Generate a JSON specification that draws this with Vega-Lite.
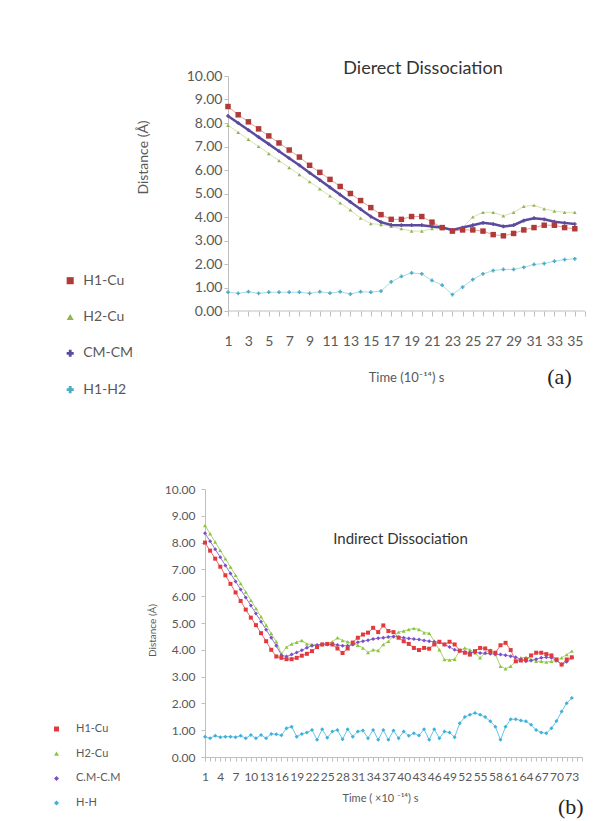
{
  "$schema": "https://vega.github.io/schema/vega-lite/v6.json",
  "padding": {"left": 51, "top": 60, "right": 5, "bottom": 0},
  "spacing": 86,
  "resolve": {"scale": {"color": "independent", "shape": "independent", "stroke": "independent", "x": "independent", "y": "independent"}, "legend": {"color": "independent"}, "axis": {"x": "independent", "y": "independent"}},
  "config": {
    "font": "Lato",
    "view": {"stroke": null},
    "axis": {"grid": false, "domainColor": "#bfbfbf", "tickColor": "#bfbfbf", "labelColor": "#595959", "titleColor": "#595959", "titleFontWeight": "normal", "labelFont": "Lato", "titleFont": "Lato"},
    "legend": {"labelColor": "#595959", "labelFont": "Lato"},
    "title": {"color": "#333333", "fontWeight": "normal", "font": "Lato"}
  },
  "datasets": {
    "a": [
      {"t":1,"s":"H1-Cu","d":8.7},{"t":1,"s":"H2-Cu","d":7.9},{"t":1,"s":"CM-CM","d":8.3},{"t":1,"s":"H1-H2","d":0.8},
      {"t":2,"s":"H1-Cu","d":8.35},{"t":2,"s":"H2-Cu","d":7.6},{"t":2,"s":"CM-CM","d":8.0},{"t":2,"s":"H1-H2","d":0.75},
      {"t":3,"s":"H1-Cu","d":8.05},{"t":3,"s":"H2-Cu","d":7.3},{"t":3,"s":"CM-CM","d":7.7},{"t":3,"s":"H1-H2","d":0.82},
      {"t":4,"s":"H1-Cu","d":7.75},{"t":4,"s":"H2-Cu","d":7.0},{"t":4,"s":"CM-CM","d":7.4},{"t":4,"s":"H1-H2","d":0.75},
      {"t":5,"s":"H1-Cu","d":7.45},{"t":5,"s":"H2-Cu","d":6.7},{"t":5,"s":"CM-CM","d":7.1},{"t":5,"s":"H1-H2","d":0.8},
      {"t":6,"s":"H1-Cu","d":7.15},{"t":6,"s":"H2-Cu","d":6.4},{"t":6,"s":"CM-CM","d":6.8},{"t":6,"s":"H1-H2","d":0.8},
      {"t":7,"s":"H1-Cu","d":6.85},{"t":7,"s":"H2-Cu","d":6.1},{"t":7,"s":"CM-CM","d":6.5},{"t":7,"s":"H1-H2","d":0.8},
      {"t":8,"s":"H1-Cu","d":6.55},{"t":8,"s":"H2-Cu","d":5.8},{"t":8,"s":"CM-CM","d":6.2},{"t":8,"s":"H1-H2","d":0.8},
      {"t":9,"s":"H1-Cu","d":6.2},{"t":9,"s":"H2-Cu","d":5.5},{"t":9,"s":"CM-CM","d":5.88},{"t":9,"s":"H1-H2","d":0.75},
      {"t":10,"s":"H1-Cu","d":5.9},{"t":10,"s":"H2-Cu","d":5.2},{"t":10,"s":"CM-CM","d":5.57},{"t":10,"s":"H1-H2","d":0.82},
      {"t":11,"s":"H1-Cu","d":5.6},{"t":11,"s":"H2-Cu","d":4.9},{"t":11,"s":"CM-CM","d":5.26},{"t":11,"s":"H1-H2","d":0.76},
      {"t":12,"s":"H1-Cu","d":5.3},{"t":12,"s":"H2-Cu","d":4.6},{"t":12,"s":"CM-CM","d":4.95},{"t":12,"s":"H1-H2","d":0.82},
      {"t":13,"s":"H1-Cu","d":5.0},{"t":13,"s":"H2-Cu","d":4.3},{"t":13,"s":"CM-CM","d":4.64},{"t":13,"s":"H1-H2","d":0.72},
      {"t":14,"s":"H1-Cu","d":4.7},{"t":14,"s":"H2-Cu","d":3.95},{"t":14,"s":"CM-CM","d":4.33},{"t":14,"s":"H1-H2","d":0.82},
      {"t":15,"s":"H1-Cu","d":4.4},{"t":15,"s":"H2-Cu","d":3.72},{"t":15,"s":"CM-CM","d":4.02},{"t":15,"s":"H1-H2","d":0.8},
      {"t":16,"s":"H1-Cu","d":4.1},{"t":16,"s":"H2-Cu","d":3.68},{"t":16,"s":"CM-CM","d":3.78},{"t":16,"s":"H1-H2","d":0.85},
      {"t":17,"s":"H1-Cu","d":3.9},{"t":17,"s":"H2-Cu","d":3.6},{"t":17,"s":"CM-CM","d":3.66},{"t":17,"s":"H1-H2","d":1.24},
      {"t":18,"s":"H1-Cu","d":3.9},{"t":18,"s":"H2-Cu","d":3.5},{"t":18,"s":"CM-CM","d":3.65},{"t":18,"s":"H1-H2","d":1.47},
      {"t":19,"s":"H1-Cu","d":4.02},{"t":19,"s":"H2-Cu","d":3.4},{"t":19,"s":"CM-CM","d":3.65},{"t":19,"s":"H1-H2","d":1.62},
      {"t":20,"s":"H1-Cu","d":4.02},{"t":20,"s":"H2-Cu","d":3.4},{"t":20,"s":"CM-CM","d":3.65},{"t":20,"s":"H1-H2","d":1.58},
      {"t":21,"s":"H1-Cu","d":3.78},{"t":21,"s":"H2-Cu","d":3.5},{"t":21,"s":"CM-CM","d":3.6},{"t":21,"s":"H1-H2","d":1.3},
      {"t":22,"s":"H1-Cu","d":3.55},{"t":22,"s":"H2-Cu","d":3.5},{"t":22,"s":"CM-CM","d":3.55},{"t":22,"s":"H1-H2","d":1.1},
      {"t":23,"s":"H1-Cu","d":3.4},{"t":23,"s":"H2-Cu","d":3.45},{"t":23,"s":"CM-CM","d":3.45},{"t":23,"s":"H1-H2","d":0.7},
      {"t":24,"s":"H1-Cu","d":3.45},{"t":24,"s":"H2-Cu","d":3.55},{"t":24,"s":"CM-CM","d":3.55},{"t":24,"s":"H1-H2","d":1.02},
      {"t":25,"s":"H1-Cu","d":3.45},{"t":25,"s":"H2-Cu","d":4.0},{"t":25,"s":"CM-CM","d":3.65},{"t":25,"s":"H1-H2","d":1.34},
      {"t":26,"s":"H1-Cu","d":3.4},{"t":26,"s":"H2-Cu","d":4.2},{"t":26,"s":"CM-CM","d":3.75},{"t":26,"s":"H1-H2","d":1.58},
      {"t":27,"s":"H1-Cu","d":3.25},{"t":27,"s":"H2-Cu","d":4.2},{"t":27,"s":"CM-CM","d":3.7},{"t":27,"s":"H1-H2","d":1.72},
      {"t":28,"s":"H1-Cu","d":3.2},{"t":28,"s":"H2-Cu","d":4.05},{"t":28,"s":"CM-CM","d":3.6},{"t":28,"s":"H1-H2","d":1.77},
      {"t":29,"s":"H1-Cu","d":3.3},{"t":29,"s":"H2-Cu","d":4.2},{"t":29,"s":"CM-CM","d":3.65},{"t":29,"s":"H1-H2","d":1.77},
      {"t":30,"s":"H1-Cu","d":3.45},{"t":30,"s":"H2-Cu","d":4.45},{"t":30,"s":"CM-CM","d":3.85},{"t":30,"s":"H1-H2","d":1.86},
      {"t":31,"s":"H1-Cu","d":3.55},{"t":31,"s":"H2-Cu","d":4.5},{"t":31,"s":"CM-CM","d":3.95},{"t":31,"s":"H1-H2","d":1.98},
      {"t":32,"s":"H1-Cu","d":3.65},{"t":32,"s":"H2-Cu","d":4.35},{"t":32,"s":"CM-CM","d":3.9},{"t":32,"s":"H1-H2","d":2.02},
      {"t":33,"s":"H1-Cu","d":3.65},{"t":33,"s":"H2-Cu","d":4.25},{"t":33,"s":"CM-CM","d":3.8},{"t":33,"s":"H1-H2","d":2.12},
      {"t":34,"s":"H1-Cu","d":3.55},{"t":34,"s":"H2-Cu","d":4.2},{"t":34,"s":"CM-CM","d":3.75},{"t":34,"s":"H1-H2","d":2.19},
      {"t":35,"s":"H1-Cu","d":3.5},{"t":35,"s":"H2-Cu","d":4.2},{"t":35,"s":"CM-CM","d":3.7},{"t":35,"s":"H1-H2","d":2.22}
    ],
    "b": [
      {"t":1,"s":"H1-Cu","d":8.0},{"t":1,"s":"H2-Cu","d":8.64},{"t":1,"s":"C.M-C.M","d":8.35},{"t":1,"s":"H-H","d":0.76},
      {"t":2,"s":"H1-Cu","d":7.7},{"t":2,"s":"H2-Cu","d":8.33},{"t":2,"s":"C.M-C.M","d":8.05},{"t":2,"s":"H-H","d":0.70},
      {"t":3,"s":"H1-Cu","d":7.4},{"t":3,"s":"H2-Cu","d":8.02},{"t":3,"s":"C.M-C.M","d":7.75},{"t":3,"s":"H-H","d":0.79},
      {"t":4,"s":"H1-Cu","d":7.1},{"t":4,"s":"H2-Cu","d":7.71},{"t":4,"s":"C.M-C.M","d":7.45},{"t":4,"s":"H-H","d":0.74},
      {"t":5,"s":"H1-Cu","d":6.78},{"t":5,"s":"H2-Cu","d":7.4},{"t":5,"s":"C.M-C.M","d":7.15},{"t":5,"s":"H-H","d":0.76},
      {"t":6,"s":"H1-Cu","d":6.46},{"t":6,"s":"H2-Cu","d":7.09},{"t":6,"s":"C.M-C.M","d":6.85},{"t":6,"s":"H-H","d":0.76},
      {"t":7,"s":"H1-Cu","d":6.14},{"t":7,"s":"H2-Cu","d":6.78},{"t":7,"s":"C.M-C.M","d":6.55},{"t":7,"s":"H-H","d":0.74},
      {"t":8,"s":"H1-Cu","d":5.82},{"t":8,"s":"H2-Cu","d":6.47},{"t":8,"s":"C.M-C.M","d":6.25},{"t":8,"s":"H-H","d":0.79},
      {"t":9,"s":"H1-Cu","d":5.5},{"t":9,"s":"H2-Cu","d":6.16},{"t":9,"s":"C.M-C.M","d":5.95},{"t":9,"s":"H-H","d":0.70},
      {"t":10,"s":"H1-Cu","d":5.2},{"t":10,"s":"H2-Cu","d":5.85},{"t":10,"s":"C.M-C.M","d":5.65},{"t":10,"s":"H-H","d":0.82},
      {"t":11,"s":"H1-Cu","d":4.92},{"t":11,"s":"H2-Cu","d":5.54},{"t":11,"s":"C.M-C.M","d":5.35},{"t":11,"s":"H-H","d":0.70},
      {"t":12,"s":"H1-Cu","d":4.62},{"t":12,"s":"H2-Cu","d":5.23},{"t":12,"s":"C.M-C.M","d":5.05},{"t":12,"s":"H-H","d":0.82},
      {"t":13,"s":"H1-Cu","d":4.32},{"t":13,"s":"H2-Cu","d":4.92},{"t":13,"s":"C.M-C.M","d":4.75},{"t":13,"s":"H-H","d":0.70},
      {"t":14,"s":"H1-Cu","d":4.0},{"t":14,"s":"H2-Cu","d":4.61},{"t":14,"s":"C.M-C.M","d":4.45},{"t":14,"s":"H-H","d":0.86},
      {"t":15,"s":"H1-Cu","d":3.75},{"t":15,"s":"H2-Cu","d":4.3},{"t":15,"s":"C.M-C.M","d":4.15},{"t":15,"s":"H-H","d":0.85},
      {"t":16,"s":"H1-Cu","d":3.7},{"t":16,"s":"H2-Cu","d":3.85},{"t":16,"s":"C.M-C.M","d":3.8},{"t":16,"s":"H-H","d":0.81},
      {"t":17,"s":"H1-Cu","d":3.65},{"t":17,"s":"H2-Cu","d":4.1},{"t":17,"s":"C.M-C.M","d":3.75},{"t":17,"s":"H-H","d":1.07},
      {"t":18,"s":"H1-Cu","d":3.65},{"t":18,"s":"H2-Cu","d":4.22},{"t":18,"s":"C.M-C.M","d":3.82},{"t":18,"s":"H-H","d":1.13},
      {"t":19,"s":"H1-Cu","d":3.7},{"t":19,"s":"H2-Cu","d":4.28},{"t":19,"s":"C.M-C.M","d":3.9},{"t":19,"s":"H-H","d":0.76},
      {"t":20,"s":"H1-Cu","d":3.78},{"t":20,"s":"H2-Cu","d":4.35},{"t":20,"s":"C.M-C.M","d":3.98},{"t":20,"s":"H-H","d":0.86},
      {"t":21,"s":"H1-Cu","d":3.85},{"t":21,"s":"H2-Cu","d":4.22},{"t":21,"s":"C.M-C.M","d":4.08},{"t":21,"s":"H-H","d":0.91},
      {"t":22,"s":"H1-Cu","d":3.95},{"t":22,"s":"H2-Cu","d":4.2},{"t":22,"s":"C.M-C.M","d":4.15},{"t":22,"s":"H-H","d":1.01},
      {"t":23,"s":"H1-Cu","d":4.1},{"t":23,"s":"H2-Cu","d":4.18},{"t":23,"s":"C.M-C.M","d":4.18},{"t":23,"s":"H-H","d":0.64},
      {"t":24,"s":"H1-Cu","d":4.2},{"t":24,"s":"H2-Cu","d":4.2},{"t":24,"s":"C.M-C.M","d":4.2},{"t":24,"s":"H-H","d":1.04},
      {"t":25,"s":"H1-Cu","d":4.22},{"t":25,"s":"H2-Cu","d":4.22},{"t":25,"s":"C.M-C.M","d":4.2},{"t":25,"s":"H-H","d":0.72},
      {"t":26,"s":"H1-Cu","d":4.2},{"t":26,"s":"H2-Cu","d":4.3},{"t":26,"s":"C.M-C.M","d":4.2},{"t":26,"s":"H-H","d":0.95},
      {"t":27,"s":"H1-Cu","d":4.05},{"t":27,"s":"H2-Cu","d":4.45},{"t":27,"s":"C.M-C.M","d":4.18},{"t":27,"s":"H-H","d":1.01},
      {"t":28,"s":"H1-Cu","d":3.88},{"t":28,"s":"H2-Cu","d":4.35},{"t":28,"s":"C.M-C.M","d":4.15},{"t":28,"s":"H-H","d":0.66},
      {"t":29,"s":"H1-Cu","d":4.05},{"t":29,"s":"H2-Cu","d":4.3},{"t":29,"s":"C.M-C.M","d":4.15},{"t":29,"s":"H-H","d":1.04},
      {"t":30,"s":"H1-Cu","d":4.27},{"t":30,"s":"H2-Cu","d":4.22},{"t":30,"s":"C.M-C.M","d":4.2},{"t":30,"s":"H-H","d":0.76},
      {"t":31,"s":"H1-Cu","d":4.45},{"t":31,"s":"H2-Cu","d":4.17},{"t":31,"s":"C.M-C.M","d":4.28},{"t":31,"s":"H-H","d":0.95},
      {"t":32,"s":"H1-Cu","d":4.57},{"t":32,"s":"H2-Cu","d":4.07},{"t":32,"s":"C.M-C.M","d":4.32},{"t":32,"s":"H-H","d":0.99},
      {"t":33,"s":"H1-Cu","d":4.64},{"t":33,"s":"H2-Cu","d":3.9},{"t":33,"s":"C.M-C.M","d":4.36},{"t":33,"s":"H-H","d":0.70},
      {"t":34,"s":"H1-Cu","d":4.82},{"t":34,"s":"H2-Cu","d":4.0},{"t":34,"s":"C.M-C.M","d":4.4},{"t":34,"s":"H-H","d":1.01},
      {"t":35,"s":"H1-Cu","d":4.66},{"t":35,"s":"H2-Cu","d":3.97},{"t":35,"s":"C.M-C.M","d":4.43},{"t":35,"s":"H-H","d":0.64},
      {"t":36,"s":"H1-Cu","d":4.91},{"t":36,"s":"H2-Cu","d":4.2},{"t":36,"s":"C.M-C.M","d":4.45},{"t":36,"s":"H-H","d":1.01},
      {"t":37,"s":"H1-Cu","d":4.7},{"t":37,"s":"H2-Cu","d":4.32},{"t":37,"s":"C.M-C.M","d":4.48},{"t":37,"s":"H-H","d":0.64},
      {"t":38,"s":"H1-Cu","d":4.66},{"t":38,"s":"H2-Cu","d":4.5},{"t":38,"s":"C.M-C.M","d":4.5},{"t":38,"s":"H-H","d":0.99},
      {"t":39,"s":"H1-Cu","d":4.45},{"t":39,"s":"H2-Cu","d":4.66},{"t":39,"s":"C.M-C.M","d":4.48},{"t":39,"s":"H-H","d":0.70},
      {"t":40,"s":"H1-Cu","d":4.32},{"t":40,"s":"H2-Cu","d":4.7},{"t":40,"s":"C.M-C.M","d":4.45},{"t":40,"s":"H-H","d":0.95},
      {"t":41,"s":"H1-Cu","d":4.22},{"t":41,"s":"H2-Cu","d":4.76},{"t":41,"s":"C.M-C.M","d":4.42},{"t":41,"s":"H-H","d":0.79},
      {"t":42,"s":"H1-Cu","d":4.07},{"t":42,"s":"H2-Cu","d":4.8},{"t":42,"s":"C.M-C.M","d":4.4},{"t":42,"s":"H-H","d":0.89},
      {"t":43,"s":"H1-Cu","d":3.99},{"t":43,"s":"H2-Cu","d":4.76},{"t":43,"s":"C.M-C.M","d":4.38},{"t":43,"s":"H-H","d":0.80},
      {"t":44,"s":"H1-Cu","d":4.07},{"t":44,"s":"H2-Cu","d":4.64},{"t":44,"s":"C.M-C.M","d":4.35},{"t":44,"s":"H-H","d":1.04},
      {"t":45,"s":"H1-Cu","d":4.04},{"t":45,"s":"H2-Cu","d":4.62},{"t":45,"s":"C.M-C.M","d":4.32},{"t":45,"s":"H-H","d":0.64},
      {"t":46,"s":"H1-Cu","d":4.2},{"t":46,"s":"H2-Cu","d":4.32},{"t":46,"s":"C.M-C.M","d":4.3},{"t":46,"s":"H-H","d":1.04},
      {"t":47,"s":"H1-Cu","d":4.3},{"t":47,"s":"H2-Cu","d":4.0},{"t":47,"s":"C.M-C.M","d":4.28},{"t":47,"s":"H-H","d":0.70},
      {"t":48,"s":"H1-Cu","d":4.2},{"t":48,"s":"H2-Cu","d":3.64},{"t":48,"s":"C.M-C.M","d":4.2},{"t":48,"s":"H-H","d":0.95},
      {"t":49,"s":"H1-Cu","d":4.3},{"t":49,"s":"H2-Cu","d":3.62},{"t":49,"s":"C.M-C.M","d":4.1},{"t":49,"s":"H-H","d":0.91},
      {"t":50,"s":"H1-Cu","d":4.2},{"t":50,"s":"H2-Cu","d":3.65},{"t":50,"s":"C.M-C.M","d":4.0},{"t":50,"s":"H-H","d":0.74},
      {"t":51,"s":"H1-Cu","d":3.97},{"t":51,"s":"H2-Cu","d":3.97},{"t":51,"s":"C.M-C.M","d":3.95},{"t":51,"s":"H-H","d":1.26},
      {"t":52,"s":"H1-Cu","d":3.89},{"t":52,"s":"H2-Cu","d":4.07},{"t":52,"s":"C.M-C.M","d":3.92},{"t":52,"s":"H-H","d":1.49},
      {"t":53,"s":"H1-Cu","d":3.82},{"t":53,"s":"H2-Cu","d":4.0},{"t":53,"s":"C.M-C.M","d":3.9},{"t":53,"s":"H-H","d":1.58},
      {"t":54,"s":"H1-Cu","d":3.95},{"t":54,"s":"H2-Cu","d":3.89},{"t":54,"s":"C.M-C.M","d":3.9},{"t":54,"s":"H-H","d":1.64},
      {"t":55,"s":"H1-Cu","d":4.07},{"t":55,"s":"H2-Cu","d":3.7},{"t":55,"s":"C.M-C.M","d":3.88},{"t":55,"s":"H-H","d":1.58},
      {"t":56,"s":"H1-Cu","d":4.05},{"t":56,"s":"H2-Cu","d":3.9},{"t":56,"s":"C.M-C.M","d":3.87},{"t":56,"s":"H-H","d":1.49},
      {"t":57,"s":"H1-Cu","d":3.95},{"t":57,"s":"H2-Cu","d":3.99},{"t":57,"s":"C.M-C.M","d":3.85},{"t":57,"s":"H-H","d":1.33},
      {"t":58,"s":"H1-Cu","d":3.89},{"t":58,"s":"H2-Cu","d":3.82},{"t":58,"s":"C.M-C.M","d":3.84},{"t":58,"s":"H-H","d":1.13},
      {"t":59,"s":"H1-Cu","d":4.17},{"t":59,"s":"H2-Cu","d":3.39},{"t":59,"s":"C.M-C.M","d":3.82},{"t":59,"s":"H-H","d":0.64},
      {"t":60,"s":"H1-Cu","d":4.26},{"t":60,"s":"H2-Cu","d":3.29},{"t":60,"s":"C.M-C.M","d":3.8},{"t":60,"s":"H-H","d":1.13},
      {"t":61,"s":"H1-Cu","d":3.99},{"t":61,"s":"H2-Cu","d":3.39},{"t":61,"s":"C.M-C.M","d":3.76},{"t":61,"s":"H-H","d":1.41},
      {"t":62,"s":"H1-Cu","d":3.57},{"t":62,"s":"H2-Cu","d":3.57},{"t":62,"s":"C.M-C.M","d":3.72},{"t":62,"s":"H-H","d":1.41},
      {"t":63,"s":"H1-Cu","d":3.6},{"t":63,"s":"H2-Cu","d":3.7},{"t":63,"s":"C.M-C.M","d":3.65},{"t":63,"s":"H-H","d":1.36},
      {"t":64,"s":"H1-Cu","d":3.64},{"t":64,"s":"H2-Cu","d":3.72},{"t":64,"s":"C.M-C.M","d":3.57},{"t":64,"s":"H-H","d":1.33},
      {"t":65,"s":"H1-Cu","d":3.79},{"t":65,"s":"H2-Cu","d":3.64},{"t":65,"s":"C.M-C.M","d":3.6},{"t":65,"s":"H-H","d":1.20},
      {"t":66,"s":"H1-Cu","d":3.89},{"t":66,"s":"H2-Cu","d":3.57},{"t":66,"s":"C.M-C.M","d":3.65},{"t":66,"s":"H-H","d":1.01},
      {"t":67,"s":"H1-Cu","d":3.89},{"t":67,"s":"H2-Cu","d":3.57},{"t":67,"s":"C.M-C.M","d":3.7},{"t":67,"s":"H-H","d":0.91},
      {"t":68,"s":"H1-Cu","d":3.84},{"t":68,"s":"H2-Cu","d":3.54},{"t":68,"s":"C.M-C.M","d":3.72},{"t":68,"s":"H-H","d":0.89},
      {"t":69,"s":"H1-Cu","d":3.79},{"t":69,"s":"H2-Cu","d":3.57},{"t":69,"s":"C.M-C.M","d":3.7},{"t":69,"s":"H-H","d":1.07},
      {"t":70,"s":"H1-Cu","d":3.64},{"t":70,"s":"H2-Cu","d":3.6},{"t":70,"s":"C.M-C.M","d":3.6},{"t":70,"s":"H-H","d":1.34},
      {"t":71,"s":"H1-Cu","d":3.45},{"t":71,"s":"H2-Cu","d":3.7},{"t":71,"s":"C.M-C.M","d":3.45},{"t":71,"s":"H-H","d":1.70},
      {"t":72,"s":"H1-Cu","d":3.64},{"t":72,"s":"H2-Cu","d":3.82},{"t":72,"s":"C.M-C.M","d":3.55},{"t":72,"s":"H-H","d":2.01},
      {"t":73,"s":"H1-Cu","d":3.72},{"t":73,"s":"H2-Cu","d":3.95},{"t":73,"s":"C.M-C.M","d":3.7},{"t":73,"s":"H-H","d":2.20}
    ]
  },
  "vconcat": [
    {
      "width": 380,
      "height": 235,
      "title": {"text": "Dierect Dissociation", "anchor": "middle", "frame": "group", "fontSize": 18, "dx": 28, "offset": -23, "baseline": "alphabetic"},
      "data": {"name": "a"},
      "encoding": {
        "x": {"field": "t", "type": "quantitative", "scale": {"domain": [-1.255, 36], "nice": false, "zero": false},
          "axis": {"title": "Time  (10⁻¹⁴) s", "domain": false, "values": [1,2,3,4,5,6,7,8,9,10,11,12,13,14,15,16,17,18,19,20,21,22,23,24,25,26,27,28,29,30,31,32,33,34,35,36],
            "labelExpr": "datum.value % 2 === 1 ? datum.label : ''", "labelOverlap": false, "labelFlush": false, "tickSize": 5, "labelPadding": 18, "labelFontSize": 14,
            "titleFontSize": 13, "titleX": 201, "titleY": 66, "titleBaseline": "middle", "titleAlign": "center"}},
        "y": {"field": "d", "type": "quantitative", "scale": {"domain": [0, 10], "nice": false},
          "axis": {"title": "Distance  (Å)", "offset": -23, "values": [0,1,2,3,4,5,6,7,8,9,10], "format": ".2f", "tickSize": 4, "labelPadding": 2, "labelFontSize": 14,
            "titleFontSize": 14, "titleX": -85, "titleY": 81, "titleAngle": -90, "titleAlign": "center", "titleBaseline": "middle"}}
      },
      "layer": [
        {
          "transform": [{"filter": "datum.t === 1 && datum.s === 'H1-Cu'"}],
          "mark": {"type": "rule", "color": "#bfbfbf", "strokeWidth": 1},
          "encoding": {"x": {"datum": 1}, "x2": {"datum": 36}, "y": {"datum": 0}}
        },
        {
          "transform": [{"filter": "datum.s !== 'CM-CM'"}],
          "mark": {"type": "line", "strokeWidth": 1},
          "encoding": {"stroke": {"field": "s", "type": "nominal", "scale": {"domain": ["H1-Cu", "H2-Cu", "H1-H2"], "range": ["#e6a3a1", "#d3e3b0", "#a9dbe8"]}, "legend": null}}
        },
        {
          "transform": [{"filter": "datum.s === 'CM-CM'"}],
          "mark": {"type": "line", "strokeWidth": 2.5, "color": "#5b4b9e"},
          "encoding": {}
        },
        {
          "transform": [{"filter": "datum.s !== 'H1-Cu'"}],
          "mark": {"type": "point", "filled": true, "size": 14, "opacity": 1},
          "encoding": {
            "color": {"field": "s", "type": "nominal",
              "scale": {"domain": ["H1-Cu", "H2-Cu", "CM-CM", "H1-H2"], "range": ["#b03a38", "#93b450", "#5b4b9e", "#4bacc6"]},
              "legend": {"title": null, "orient": "none", "legendX": -141.8, "legendY": 197.7, "direction": "vertical", "padding": 0,
                "symbolSize": 50, "rowPadding": 22.3, "labelFontSize": 14, "labelOffset": 6, "symbolOpacity": 1}},
            "shape": {"field": "s", "type": "nominal", "scale": {"domain": ["H1-Cu", "H2-Cu", "CM-CM", "H1-H2"], "range": ["square", "triangle-up", "cross", "cross"]}, "legend": null}
          }
        },
        {
          "transform": [{"filter": "datum.s === 'H1-Cu'"}],
          "mark": {"type": "point", "filled": true, "size": 30, "shape": "square", "opacity": 1},
          "encoding": {
            "color": {"field": "s", "type": "nominal",
              "scale": {"domain": ["H1-Cu", "H2-Cu", "CM-CM", "H1-H2"], "range": ["#b03a38", "#93b450", "#5b4b9e", "#4bacc6"]},
              "legend": {"title": null, "orient": "none", "legendX": -141.8, "legendY": 197.7, "direction": "vertical", "padding": 0,
                "symbolSize": 50, "rowPadding": 22.3, "labelFontSize": 14, "labelOffset": 6, "symbolOpacity": 1}}
          }
        },
        {
          "transform": [{"filter": "datum.t === 1 && datum.s === 'H1-Cu'"}],
          "mark": {"type": "text", "font": "Liberation Serif", "fontSize": 22, "color": "#222222", "align": "center", "baseline": "middle"},
          "encoding": {"x": {"datum": 33.5}, "y": {"datum": -2.81}, "text": {"value": "(a)"}}
        }
      ]
    },
    {
      "width": 377,
      "height": 268,
      "title": {"text": "Indirect Dissociation", "anchor": "middle", "frame": "group", "fontSize": 15, "dx": 7, "offset": -76, "baseline": "alphabetic"},
      "data": {"name": "b"},
      "encoding": {
        "x": {"field": "t", "type": "quantitative", "scale": {"domain": [1, 75], "nice": false, "zero": false},
          "axis": {"title": "Time ( ×10 ⁻¹⁴) s", "values": [1,2,3,4,5,6,7,8,9,10,11,12,13,14,15,16,17,18,19,20,21,22,23,24,25,26,27,28,29,30,31,32,33,34,35,36,37,38,39,40,41,42,43,44,45,46,47,48,49,50,51,52,53,54,55,56,57,58,59,60,61,62,63,64,65,66,67,68,69,70,71,72,73,74,75],
            "labelExpr": "(datum.value - 1) % 3 === 0 && datum.value <= 73 ? datum.label : ''", "labelOverlap": false, "labelFlush": false, "tickSize": 4, "labelPadding": 10, "labelFontSize": 12,
            "titleFontSize": 11, "titleX": 175, "titleY": 41, "titleBaseline": "middle", "titleAlign": "center"}},
        "y": {"field": "d", "type": "quantitative", "scale": {"domain": [0, 10], "nice": false},
          "axis": {"title": "Distance (Å)", "values": [0,1,2,3,4,5,6,7,8,9,10], "format": ".2f", "tickSize": 4, "labelPadding": 6, "labelFontSize": 12,
            "titleFontSize": 10, "titleX": -53, "titleY": 141, "titleAngle": -90, "titleAlign": "center", "titleBaseline": "middle"}}
      },
      "layer": [
        {
          "transform": [{"filter": "datum.s === 'H1-Cu'"}],
          "mark": {"type": "line", "strokeWidth": 1, "color": "#e8696a"},
          "encoding": {}
        },
        {
          "transform": [{"filter": "datum.s === 'H2-Cu'"}],
          "mark": {"type": "line", "strokeWidth": 1, "color": "#a9d46a"},
          "encoding": {}
        },
        {
          "transform": [{"filter": "datum.s === 'C.M-C.M'"}],
          "mark": {"type": "line", "strokeWidth": 1, "color": "#9477d6"},
          "encoding": {}
        },
        {
          "transform": [{"filter": "datum.s === 'H-H'"}],
          "mark": {"type": "line", "strokeWidth": 1, "color": "#6cc4e6"},
          "encoding": {}
        },
        {
          "transform": [{"filter": "datum.s !== 'H1-Cu'"}],
          "mark": {"type": "point", "filled": true, "size": 16, "opacity": 1},
          "encoding": {
            "color": {"field": "s", "type": "nominal",
              "scale": {"domain": ["H1-Cu", "H2-Cu", "C.M-C.M", "H-H"], "range": ["#e23a3c", "#8cc63e", "#7a4fc8", "#3db0dc"]},
              "legend": {"title": null, "orient": "none", "legendX": -154, "legendY": 234.5, "direction": "vertical", "padding": 0,
                "symbolSize": 25, "rowPadding": 12.7, "labelFontSize": 11, "labelOffset": 14, "symbolOpacity": 1}},
            "shape": {"field": "s", "type": "nominal", "scale": {"domain": ["H1-Cu", "H2-Cu", "C.M-C.M", "H-H"], "range": ["square", "triangle-up", "diamond", "diamond"]}, "legend": null}
          }
        },
        {
          "transform": [{"filter": "datum.s === 'H1-Cu'"}],
          "mark": {"type": "point", "filled": true, "size": 16, "shape": "square", "opacity": 1},
          "encoding": {
            "color": {"field": "s", "type": "nominal",
              "scale": {"domain": ["H1-Cu", "H2-Cu", "C.M-C.M", "H-H"], "range": ["#e23a3c", "#8cc63e", "#7a4fc8", "#3db0dc"]},
              "legend": {"title": null, "orient": "none", "legendX": -154, "legendY": 234.5, "direction": "vertical", "padding": 0,
                "symbolSize": 25, "rowPadding": 12.7, "labelFontSize": 11, "labelOffset": 14, "symbolOpacity": 1}}
          }
        },
        {
          "transform": [{"filter": "datum.t === 1 && datum.s === 'H1-Cu'"}],
          "mark": {"type": "text", "font": "Liberation Serif", "fontSize": 22, "color": "#222222", "align": "center", "baseline": "middle"},
          "encoding": {"x": {"datum": 72.8}, "y": {"datum": -1.87}, "text": {"value": "(b)"}}
        }
      ]
    }
  ]
}
